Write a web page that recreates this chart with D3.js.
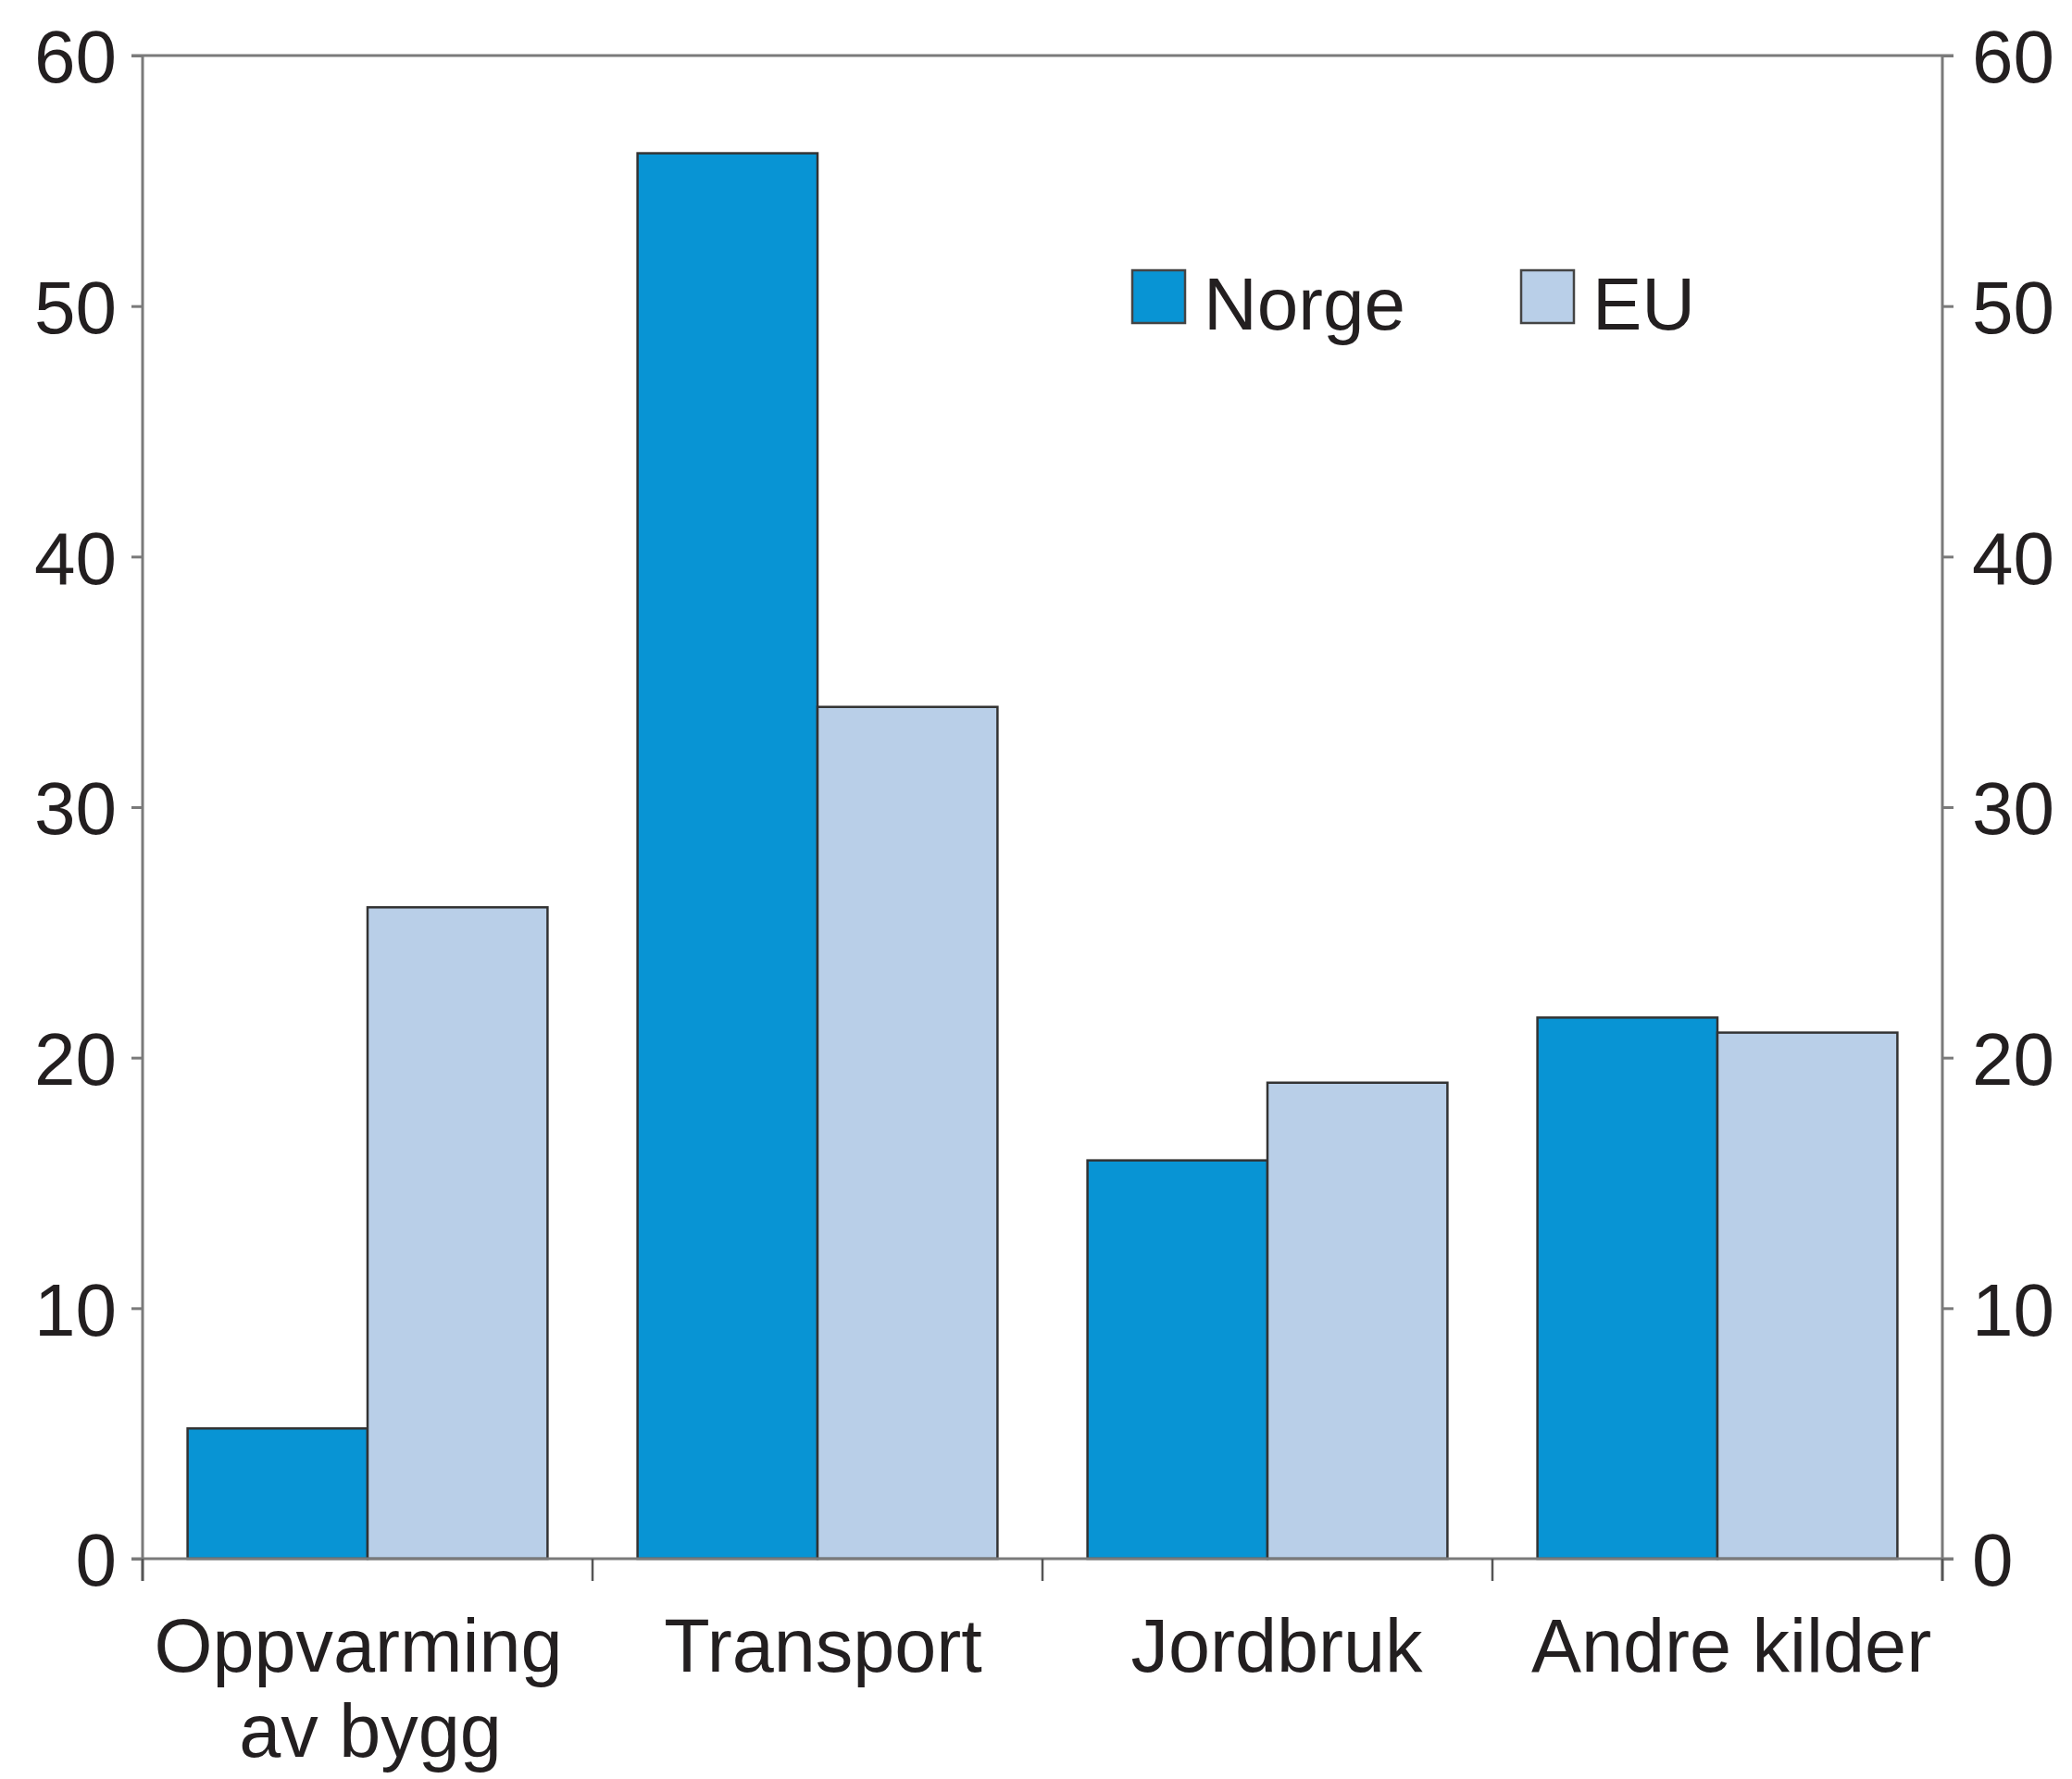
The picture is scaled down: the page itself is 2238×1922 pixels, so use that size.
<!DOCTYPE html>
<html>
	<head>
		<meta charset="utf-8"/>
		<script src="https://d3js.org/d3.v7.min.js"></script>
		<style>
			body {
				margin: 0;
				background: #fff;
			}
			text {
				font-family: 'Liberation Sans', Arial, sans-serif;
				fill: #231f20;
			}
			.frame {
				stroke: #7a7a7a;
				stroke-width: 3;
				fill: none;
			}
		</style>
	</head>
	<body>
		<div id="chart"></div>
		<script>
			var categories = [["Oppvarming", "av bygg"], ["Transport"], ["Jordbruk"], ["Andre kilder"]];
			var series = ["Norge", "EU"];
			var norge = [5.2, 56.1, 15.9, 21.6];
			var eu = [26.0, 34.0, 19.0, 21.0];
			var yTicks = [0, 10, 20, 30, 40, 50, 60];
			var colors = {Norge: "#0894d4", EU: "#b9cfe8"};

			var W = 2238, H = 1922;
			// plot box in page pixels (note: "top" is taken by window.top)
			var pLeft = 154, pRight = 2098, pTop = 60, pBottom = 1684;
			// small horizontal nudges of the category labels, as in the original
			var labelNudge = [[-10, 3], [6], [10], [15]];

			var svg = d3.select('#chart').append('svg')
				.attr('width', W)
				.attr('height', H);

			var keys = categories.map(c => c.join(' '));
			var x = d3.scaleBand().domain(keys).range([pLeft, pRight]);
			var xs = d3.scaleBand().domain(series).range([0, x.bandwidth()]).paddingOuter(0.25);
			var y = d3.scaleLinear().domain([0, 60]).range([pBottom, pTop]);

			var rows = keys.map((k, i) => ({key: k, Norge: norge[i], EU: eu[i]}));

			// bars
			var groups = svg.append('g').selectAll('g')
				.data(rows)
				.join('g')
				.attr('transform', d => `translate(${x(d.key)},0)`);
			groups.selectAll('rect')
				.data(d => series.map(s => ({s: s, v: d[s]})))
				.join('rect')
				.attr('x', d => xs(d.s))
				.attr('width', xs.bandwidth())
				.attr('y', d => y(d.v))
				.attr('height', d => y(0) - y(d.v))
				.style('fill', d => colors[d.s])
				.style('stroke', '#333')
				.style('stroke-width', 2.5);

			// left + right axes
			var yl = svg.append('g')
				.attr('transform', `translate(${pLeft},0)`)
				.call(d3.axisLeft(y).tickValues(yTicks).tickSize(12).tickPadding(16));
			var yr = svg.append('g')
				.attr('transform', `translate(${pRight},0)`)
				.call(d3.axisRight(y).tickValues(yTicks).tickSize(12).tickPadding(20));
			[yl, yr].forEach(a => {
				a.select('.domain').attr('d', `M0,${pTop}V${pBottom + 24}`).attr('class', 'frame');
				a.selectAll('line').style('stroke', '#7a7a7a').style('stroke-width', 3);
				a.selectAll('text')
					.style('font-size', '80px')
					.style('font-family', "'Liberation Sans', Arial, sans-serif")
					.style('fill', '#231f20')
					.attr('dy', '0.36em');
			});

			// top frame line and zero line
			svg.append('line').attr('class', 'frame')
				.attr('x1', pLeft - 12).attr('x2', pRight + 12)
				.attr('y1', y(60)).attr('y2', y(60));
			svg.append('line').attr('class', 'frame')
				.attr('x1', pLeft - 12).attr('x2', pRight + 12)
				.attr('y1', y(0)).attr('y2', y(0));

			// category separators below zero
			var edges = keys.map(k => x(k)).concat([pRight]);
			svg.append('g').selectAll('line')
				.data(edges)
				.join('line')
				.attr('x1', d => d).attr('x2', d => d)
				.attr('y1', y(0)).attr('y2', y(0) + 24)
				.style('stroke', '#555')
				.style('stroke-width', 2.5);

			// category labels
			svg.append('g').selectAll('text')
				.data(categories.map((c, i) => c.map((t, j) => ({t: t, i: i, j: j}))))
				.join('text')
				.attr('y', 1806)
				.attr('text-anchor', 'middle')
				.style('font-size', '81px')
				.selectAll('tspan')
				.data(d => d)
				.join('tspan')
				.attr('x', d => x(keys[d.i]) + x.bandwidth() / 2 + labelNudge[d.i][d.j])
				.attr('dy', d => d.j ? 92 : 0)
				.text(d => d.t);

			// legend
			var legX = [1223, 1643];
			var leg = svg.append('g').selectAll('g')
				.data(series)
				.join('g')
				.attr('transform', (d, i) => `translate(${legX[i]},292)`);
			leg.append('rect')
				.attr('width', 57).attr('height', 57)
				.style('fill', d => colors[d])
				.style('stroke', '#444')
				.style('stroke-width', 2.5);
			leg.append('text')
				.attr('x', 77).attr('y', 64)
				.style('font-size', '80px')
				.text(d => d);
		</script>
	</body>
</html>
